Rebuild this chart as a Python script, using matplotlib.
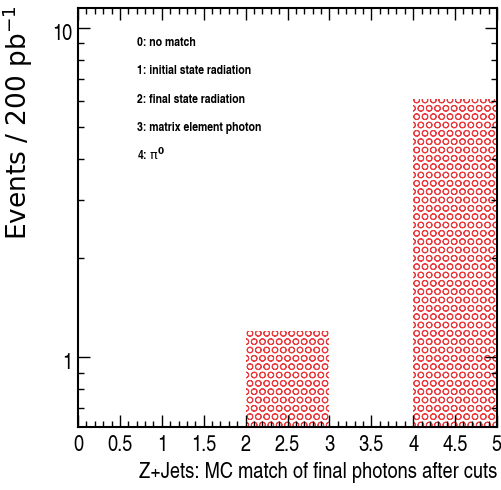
import matplotlib
matplotlib.use("Agg")
import matplotlib.pyplot as plt
import matplotlib.transforms as mtransforms
from matplotlib.ticker import MultipleLocator, LogLocator, FuncFormatter, NullFormatter

# histogram content (bin edges and entries per bin)
binEdges = [0, 1, 2, 3, 4, 5]
binCounts = [0, 0, 1.2, 0, 6.1]

legendLines = ["0: no match",
               "1: initial state radiation",
               "2: final state radiation",
               "3: matrix element photon",
               "4: $\\mathrm{\\pi}^{\\mathbf{0}}$"]

xTitle = "Z+Jets: MC match of final photons after cuts"
yTitle = "Events / 200 pb$^{-1}$"

# condensed helvetica look, falls back to plain sans if missing
narrow = ["TeX Gyre Heros Cn", "Liberation Sans Narrow", "Liberation Sans", "DejaVu Sans"]
plt.rcParams["font.family"] = narrow
plt.rcParams["hatch.linewidth"] = 0.7

W, H = 502, 490
fig = plt.figure(figsize=(W / 100, H / 100), dpi=100)
ax = fig.add_axes([78 / W, 63 / H, 419 / W, 419 / H])

left = binEdges[:-1]
widths = [binEdges[i + 1] - binEdges[i] for i in range(len(left))]
ax.bar(left, binCounts, width=widths, align="edge", bottom=1e-3,
       facecolor="none", edgecolor="#ea3a3e", linewidth=0, hatch="OO")

ax.set_yscale("log")
ax.set_xlim(0, 5)
ax.set_ylim(0.615, 11.5)

ax.xaxis.set_major_locator(MultipleLocator(0.5))
ax.xaxis.set_minor_locator(MultipleLocator(0.1))
ax.xaxis.set_major_formatter(FuncFormatter(lambda v, p: "%g" % v))
ax.yaxis.set_major_locator(LogLocator(base=10))
ax.yaxis.set_minor_locator(LogLocator(base=10, subs=range(2, 10)))
ax.yaxis.set_major_formatter(FuncFormatter(lambda v, p: "%g" % v))
ax.yaxis.set_minor_formatter(NullFormatter())

ax.tick_params(which="both", direction="in", top=True, right=True, width=1, colors="black")
ax.tick_params(which="major", length=8.6, labelsize=16)
ax.tick_params(which="minor", length=4.3)
ax.tick_params(axis="x", which="major", pad=6)
ax.tick_params(axis="y", which="major", pad=4)
for s in ax.spines.values():
    s.set_linewidth(1.5)

# root puts the y labels a little below their ticks
shift = mtransforms.ScaledTranslation(0, -0.04, fig.dpi_scale_trans)
for lab in ax.get_yticklabels():
    lab.set_transform(lab.get_transform() + shift)

ax.set_xlabel(xTitle, fontsize=16, ha="right", va="baseline")
ax.xaxis.set_label_coords(1.0, -(478 - 427) / 419)

fig.text(18 / W, 1 - 5 / H, yTitle, rotation=90, ha="center", va="top",
         fontsize=19, family="DejaVu Sans")

yBase = [46, 74, 103, 131, 160]
for txt, yb in zip(legendLines, yBase):
    fig.text(137 / W, 1 - yb / H, txt, fontsize=9.2, fontweight="bold", va="baseline")

plt.savefig("out.png", dpi=100)
